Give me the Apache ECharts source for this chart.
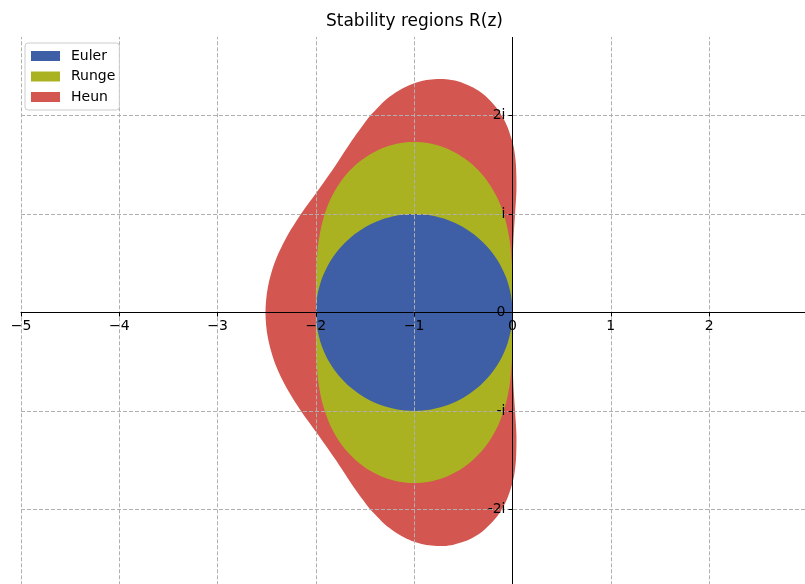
<!DOCTYPE html>
<html>
<head>
<meta charset="utf-8">
<script src="https://cdn.jsdelivr.net/npm/echarts@6/dist/echarts.min.js"></script>
<style>
  html, body { margin: 0; padding: 0; background: #ffffff; }
  #chart { width: 805px; height: 584px; }
</style>
</head>
<body>
<div id="chart"></div>
<script>
// Boundary outlines of the stability regions, as [Re z, Im z] pairs.
const eulerBoundary = [
  [0, 0], [-0.015, 0.174], [-0.060, 0.342], [-0.134, 0.5], [-0.234, 0.643], [-0.357, 0.766],
  [-0.5, 0.866], [-0.658, 0.940], [-0.826, 0.985], [-1, 1], [-1.174, 0.985], [-1.342, 0.940],
  [-1.5, 0.866], [-1.643, 0.766], [-1.766, 0.643], [-1.866, 0.5], [-1.940, 0.342], [-1.985, 0.174],
  [-2, 0], [-1.985, -0.174], [-1.940, -0.342], [-1.866, -0.5], [-1.766, -0.643], [-1.643, -0.766],
  [-1.5, -0.866], [-1.342, -0.940], [-1.174, -0.985], [-1, -1], [-0.826, -0.985], [-0.658, -0.940],
  [-0.5, -0.866], [-0.357, -0.766], [-0.234, -0.643], [-0.134, -0.5], [-0.060, -0.342], [-0.015, -0.174]
];

const rungeBoundary = [
  [0, 0], [0, 0.174], [-0.002, 0.343], [-0.007, 0.504], [-0.028, 0.728], [-0.069, 0.931],
  [-0.131, 1.112], [-0.214, 1.272], [-0.315, 1.410], [-0.432, 1.524], [-0.562, 1.614],
  [-0.702, 1.680], [-0.849, 1.719], [-1, 1.732], [-1.151, 1.719], [-1.298, 1.680],
  [-1.438, 1.614], [-1.568, 1.524], [-1.685, 1.410], [-1.786, 1.272], [-1.869, 1.112],
  [-1.931, 0.931], [-1.972, 0.728], [-1.993, 0.504], [-1.998, 0.343], [-2, 0.174], [-2, 0],
  [-2, -0.174], [-1.998, -0.343], [-1.993, -0.504], [-1.972, -0.728], [-1.931, -0.931],
  [-1.869, -1.112], [-1.786, -1.272], [-1.685, -1.410], [-1.568, -1.524], [-1.438, -1.614],
  [-1.298, -1.680], [-1.151, -1.719], [-1, -1.732], [-0.849, -1.719], [-0.702, -1.680],
  [-0.562, -1.614], [-0.432, -1.524], [-0.315, -1.410], [-0.214, -1.272], [-0.131, -1.112],
  [-0.069, -0.931], [-0.028, -0.728], [-0.007, -0.504], [-0.002, -0.343], [0, -0.174]
];

const heunBoundary = [
  [0, 0], [0, 0.25], [0.002, 0.5], [0.010, 0.75], [0.026, 1.0], [0.040, 1.25], [0.035, 1.5],
  [0.018, 1.65], [0, 1.732], [-0.05, 1.883], [-0.1, 1.986], [-0.15, 2.064], [-0.2, 2.125],
  [-0.3, 2.220], [-0.4, 2.286], [-0.5, 2.331], [-0.6, 2.359], [-0.7, 2.373], [-0.8, 2.371],
  [-0.9, 2.358], [-1.0, 2.330], [-1.1, 2.286], [-1.2, 2.227], [-1.3, 2.152], [-1.4, 2.051],
  [-1.449, 2.0], [-1.632, 1.75], [-1.797, 1.5], [-1.972, 1.25], [-2.152, 1.0], [-2.307, 0.75],
  [-2.422, 0.5], [-2.490, 0.25], [-2.513, 0],
  [-2.490, -0.25], [-2.422, -0.5], [-2.307, -0.75], [-2.152, -1.0], [-1.972, -1.25],
  [-1.797, -1.5], [-1.632, -1.75], [-1.449, -2.0], [-1.4, -2.051], [-1.3, -2.152],
  [-1.2, -2.227], [-1.1, -2.286], [-1.0, -2.330], [-0.9, -2.358], [-0.8, -2.371],
  [-0.7, -2.373], [-0.6, -2.359], [-0.5, -2.331], [-0.4, -2.286], [-0.3, -2.220],
  [-0.2, -2.125], [-0.15, -2.064], [-0.1, -1.986], [-0.05, -1.883], [0, -1.732],
  [0.018, -1.65], [0.035, -1.5], [0.040, -1.25], [0.026, -1.0], [0.010, -0.75],
  [0.002, -0.5], [0, -0.25]
];

const methodNames = ['Euler', 'Runge', 'Heun'];
const imagTickLabels = { '-2': '-2i', '-1': '-i', '0': '0', '1': 'i', '2': '2i' };

const FONT = 'DejaVu Sans';

// Plot box (pixels) and axis ranges; the spines cross at the origin.
const GRID = { left: 21, top: 17.3, width: 786.4, height: 590.4 };
const X_RANGE = [-5, 3];
const Y_RANGE = [-3, 3];
const zeroX = GRID.left + GRID.width * (0 - X_RANGE[0]) / (X_RANGE[1] - X_RANGE[0]);
const zeroY = GRID.top + GRID.height * (Y_RANGE[1] - 0) / (Y_RANGE[1] - Y_RANGE[0]);

// One filled polygon per region, projected through the cartesian axes.
function regionSeries(name, points, color, z) {
  return {
    name: name,
    type: 'custom',
    coordinateSystem: 'cartesian2d',
    data: points,
    encode: { x: 0, y: 1 },
    z: z,
    clip: true,
    itemStyle: { color: color },
    renderItem: function (params, api) {
      if (params.dataIndex !== 0) return null;
      return {
        type: 'polygon',
        shape: { points: points.map(function (p) { return api.coord(p); }), smooth: 0.3 },
        style: { fill: color }
      };
    }
  };
}

const chart = echarts.init(document.getElementById('chart'), null, { renderer: 'canvas' });

const gridLine = { show: true, lineStyle: { color: '#b0b0b0', width: 1, type: [4, 2] } };

chart.setOption({
  animation: false,
  backgroundColor: '#ffffff',
  title: {
    text: 'Stability regions R(z)',
    left: 326,
    top: 13,
    padding: 0,
    z: 30,
    textStyle: { fontFamily: FONT, fontSize: 17, fontWeight: 'normal', color: '#000000' }
  },
  legend: {
    data: methodNames,
    orient: 'vertical',
    left: 25,
    top: 43,
    z: 25,
    icon: 'rect',
    itemWidth: 29,
    itemHeight: 10,
    itemGap: 6.5,
    padding: [6, 4, 6, 6],
    backgroundColor: 'rgba(255,255,255,0.8)',
    borderColor: '#cccccc',
    borderWidth: 1,
    borderRadius: 3,
    textStyle: { fontFamily: FONT, fontSize: 14, color: '#000000', lineHeight: 14, padding: [0, 0, 0, 6] }
  },
  grid: {
    left: GRID.left, top: GRID.top, width: GRID.width, height: GRID.height,
    containLabel: false, outerBoundsMode: 'none'
  },
  xAxis: {
    type: 'value',
    min: X_RANGE[0],
    max: X_RANGE[1],
    interval: 1,
    position: 'bottom',
    offset: -(GRID.top + GRID.height - zeroY),
    z: 10,
    axisLine: { onZero: false, lineStyle: { color: '#000000', width: 1 } },
    axisTick: { show: true, length: 4, lineStyle: { color: '#000000', width: 1 } },
    axisLabel: {
      color: '#000000', fontFamily: FONT, fontSize: 14, margin: 7, showMaxLabel: false,
      formatter: function (v) { return v < 0 ? '\u2212' + (-v) : String(v); }
    },
    splitLine: gridLine
  },
  yAxis: {
    type: 'value',
    min: Y_RANGE[0],
    max: Y_RANGE[1],
    interval: 1,
    position: 'left',
    offset: -(zeroX - GRID.left),
    z: 10,
    axisLine: { onZero: false, lineStyle: { color: '#000000', width: 1 } },
    axisTick: { show: true, length: 4, lineStyle: { color: '#000000', width: 1 } },
    axisLabel: {
      color: '#000000', fontFamily: FONT, fontSize: 14, margin: 7,
      formatter: function (v) { return imagTickLabels[String(v)] || ''; }
    },
    splitLine: gridLine
  },
  // blank band above the plotting area (axes end just below the title)
  graphic: [{
    type: 'rect',
    z: 20,
    shape: { x: 0, y: 0, width: 805, height: 37 },
    style: { fill: '#ffffff' }
  }],
  series: [
    regionSeries('Heun', heunBoundary, '#d35750', 2),
    regionSeries('Runge', rungeBoundary, '#abb222', 3),
    regionSeries('Euler', eulerBoundary, '#3e5fa5', 4)
  ]
});
</script>
</body>
</html>
